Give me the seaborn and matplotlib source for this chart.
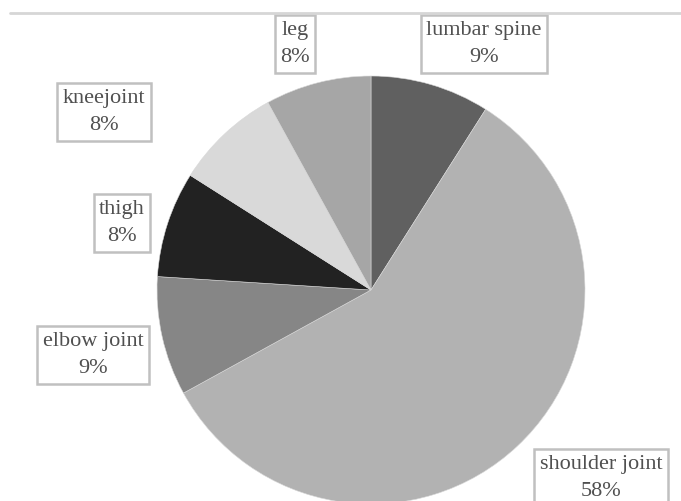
import matplotlib
matplotlib.use("Agg")
import matplotlib.pyplot as plt
import seaborn as sns
from matplotlib.lines import Line2D

# slices, clockwise from 12 o'clock
parts = ["lumbar spine", "shoulder joint", "elbow joint", "thigh", "kneejoint", "leg"]
shares = [9, 58, 9, 8, 8, 8]
shades = ["#606060", "#b2b2b2", "#868686", "#222222", "#d9d9d9", "#a6a6a6"]

# label box centres in pixel space (x from left, y from top)
label_pos = [(484, 44), (601, 478), (93, 355), (122, 223), (104, 112), (295, 44)]

W, H = 681, 501

sns.set_theme(style="white")
plt.rcParams["font.family"] = ["Liberation Serif", "DejaVu Serif"]

fig = plt.figure(figsize=(W / 100, H / 100), dpi=100)
ax = fig.add_axes([0, 0, 1, 1])

ax.pie(
    shares,
    colors=shades,
    startangle=90,
    counterclock=False,
    center=(371, H - 290),
    radius=214,
    frame=True,
    wedgeprops=dict(edgecolor="#d8d8d8", linewidth=0.4),
)
ax.set_xlim(0, W)
ax.set_ylim(0, H)
ax.set_aspect("equal")
ax.axis("off")

for name, val, (px, py) in zip(parts, shares, label_pos):
    ax.text(
        px, H - py, f"{name}\n{val}%",
        ha="center", va="center", fontsize=16, color="#505050",
        linespacing=1.6,
        bbox=dict(boxstyle="square,pad=0.25", facecolor="white",
                  edgecolor="#c0c0c0", linewidth=1.8),
        zorder=5,
    )

# thin rule across the top
fig.add_artist(Line2D([10 / W, 1], [1 - 13 / H, 1 - 13 / H],
                      color="#d6d6d6", linewidth=2, transform=fig.transFigure))

fig.savefig("out.png", dpi=100)
